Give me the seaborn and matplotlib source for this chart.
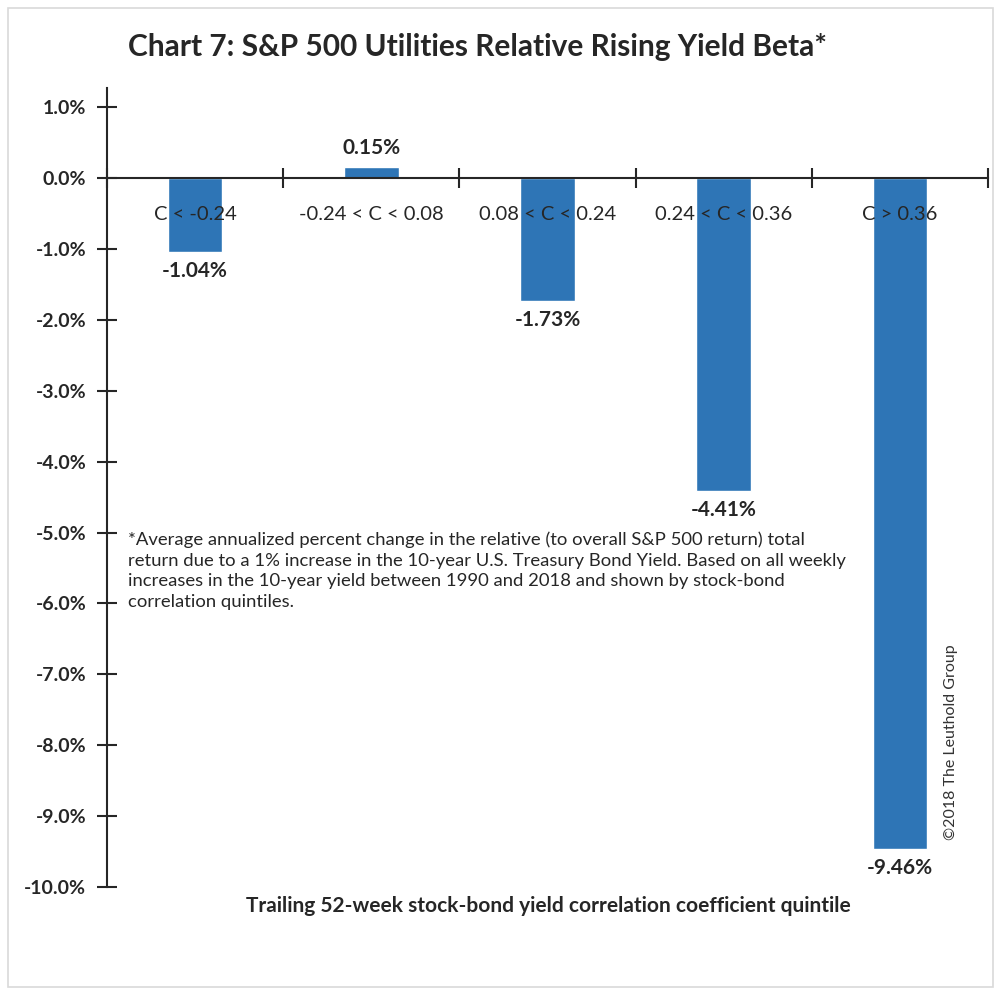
import matplotlib
matplotlib.use("Agg")
import matplotlib.pyplot as plt
import seaborn as sns
import pandas as pd
from matplotlib.patches import Rectangle

categories = ["C < -0.24", "-0.24 < C < 0.08", "0.08 < C < 0.24", "0.24 < C < 0.36", "C > 0.36"]
values = [-1.04, 0.15, -1.73, -4.41, -9.46]
yticks = [1, 0, -1, -2, -3, -4, -5, -6, -7, -8, -9, -10]

title = "Chart 7: S&P 500 Utilities Relative Rising Yield Beta*"
xlabel = "Trailing 52-week stock-bond yield correlation coefficient quintile"
note = ("*Average annualized percent change in the relative (to overall S&P 500 return) total\n"
        "return due to a 1% increase in the 10-year U.S. Treasury Bond Yield. Based on all weekly\n"
        "increases in the 10-year yield between 1990 and 2018 and shown by stock-bond\n"
        "correlation quintiles.")
credit = "\u00a92018 The Leuthold Group"

sns.set_style("white")
plt.rcParams['font.family'] = ['Lato', 'DejaVu Sans']

df = pd.DataFrame({"cat": categories, "val": values})

fig = plt.figure(figsize=(10, 9.94), dpi=100)
ax = fig.add_axes([0.107, 0.1076, 0.881, 0.8039])

sns.barplot(data=df, x="cat", y="val", color="#2E75B6", saturation=1, width=0.31, ax=ax, zorder=2)
ax.set_axisbelow(False)

ax.set_xlim(-0.5, 4.5)
ax.set_ylim(-10, 1.27)
ax.set_yticks(yticks)
ax.set_yticklabels([f"{v:.1f}%" for v in yticks], fontsize=14, fontweight="bold")
ax.tick_params(axis="y", direction="inout", length=14, width=1.5, pad=8, left=True)

ax.spines["top"].set_visible(False)
ax.spines["right"].set_visible(False)
ax.spines["left"].set_linewidth(1.5)
ax.spines["bottom"].set_linewidth(1.5)
ax.spines["bottom"].set_position(("data", 0))
ax.spines["bottom"].set_zorder(3)

ax.set_xticks([-0.5, 0.5, 1.5, 2.5, 3.5, 4.5])
ax.set_xticklabels([])
ax.set_xticks(range(len(categories)), minor=True)
ax.set_xticklabels(categories, minor=True, fontsize=14.5)
ax.tick_params(axis="x", which="major", direction="inout", length=14, width=1.5, bottom=True)
ax.tick_params(axis="x", which="minor", length=0, pad=20)
ax.set_xlabel("")
ax.set_ylabel("")

for i, v in enumerate(values):
    if v >= 0:
        ax.annotate(f"{v:.2f}%", (i, v), xytext=(0, 7), textcoords="offset points",
                    ha="center", va="bottom", fontsize=15, fontweight="bold")
    else:
        ax.annotate(f"{v:.2f}%", (i, v), xytext=(0, -7), textcoords="offset points",
                    ha="center", va="top", fontsize=15, fontweight="bold")

fig.text(0.478, 0.953, title, ha="center", va="center", fontsize=21.5, fontweight="bold")
fig.text(0.548, 0.089, xlabel, ha="center", va="center", fontsize=15, fontweight="bold")
fig.text(0.128, 0.465, note, ha="left", va="top", fontsize=13.3, linespacing=1.35)
fig.text(0.951, 0.155, credit, ha="center", va="bottom", rotation=90, fontsize=11.5, color="#333333")

fig.patches.append(Rectangle((0.008, 0.007), 0.985, 0.985, transform=fig.transFigure,
                             fill=False, edgecolor="#D9D9D9", linewidth=1.2))

fig.savefig("out.png", dpi=100)
